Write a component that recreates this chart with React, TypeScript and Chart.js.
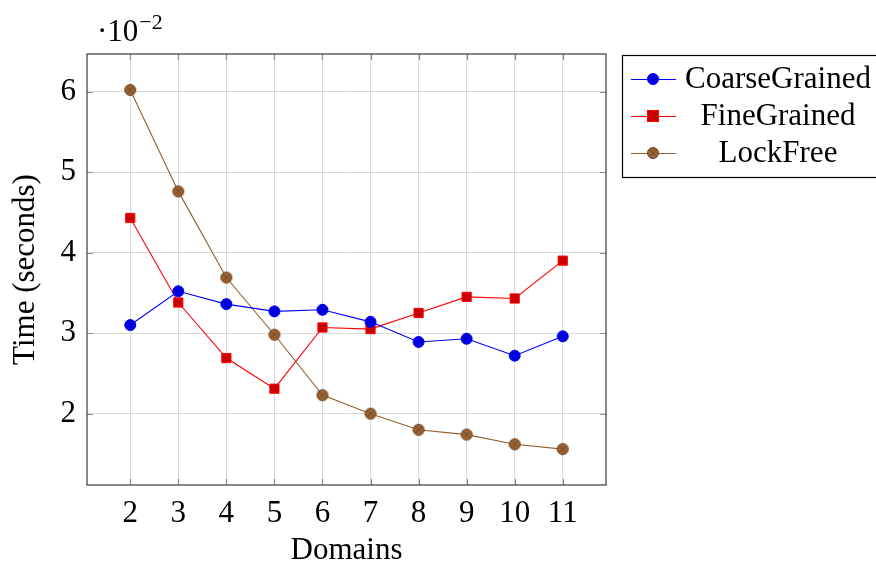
import React, { useEffect, useRef } from "react";
import { Chart, registerables } from "chart.js";

Chart.register(...registerables);

const domains = [2, 3, 4, 5, 6, 7, 8, 9, 10, 11];
const coarseGrained = [3.10, 3.52, 3.36, 3.27, 3.29, 3.14, 2.89, 2.93, 2.72, 2.96];
const fineGrained = [4.43, 3.38, 2.69, 2.31, 3.07, 3.05, 3.25, 3.45, 3.43, 3.90];
const lockFree = [6.02, 4.76, 3.69, 2.98, 2.23, 2.00, 1.80, 1.74, 1.62, 1.56];
const seriesNames = ["CoarseGrained", "FineGrained", "LockFree"];
const yTicks = [2, 3, 4, 5, 6];
const xLabel = "Domains";
const yLabel = "Time (seconds)";

const FONT = "'Liberation Serif', 'DejaVu Serif', serif";
const FS = 31;

function otimesMarker(): HTMLCanvasElement {
  const c = document.createElement("canvas");
  c.width = 14;
  c.height = 14;
  const ctx = c.getContext("2d")!;
  const r = 6;
  ctx.beginPath();
  ctx.arc(7, 7, r - 0.5, 0, Math.PI * 2);
  ctx.fillStyle = "#9a6233";
  ctx.fill();
  ctx.lineWidth = 1;
  ctx.strokeStyle = "#6e4420";
  ctx.stroke();
  const d = (r - 0.5) * Math.SQRT1_2;
  ctx.beginPath();
  ctx.moveTo(7 - d, 7 - d);
  ctx.lineTo(7 + d, 7 + d);
  ctx.moveTo(7 + d, 7 - d);
  ctx.lineTo(7 - d, 7 + d);
  ctx.strokeStyle = "#6e4420";
  ctx.lineWidth = 0.8;
  ctx.stroke();
  return c;
}

export default function App() {
  const ref = useRef<HTMLCanvasElement | null>(null);

  useEffect(() => {
    if (!ref.current) return;
    const lfMarker = otimesMarker();

    const styles = [
      { line: "#0000ff", fill: "#0000dd", border: "#0000ff", style: "circle" as any, radius: 5.5 },
      { line: "#ff0000", fill: "#cc0000", border: "#ff0000", style: "rect" as any, radius: 6.5 },
      { line: "#8f5e30", fill: "#9a6233", border: "#6e4420", style: lfMarker as any, radius: 6 },
    ];
    const values = [coarseGrained, fineGrained, lockFree];

    const frame = {
      id: "pgfFrame",
      afterDatasetsDraw(chart: any) {
        const { ctx, chartArea: a, scales } = chart;
        ctx.save();
        ctx.strokeStyle = "#8c8c8c";
        ctx.lineWidth = 1.2;
        const tl = 6;
        for (const v of domains) {
          const x = Math.round(scales.x.getPixelForValue(v)) + 0.5;
          ctx.beginPath();
          ctx.moveTo(x, a.bottom);
          ctx.lineTo(x, a.bottom - tl);
          ctx.moveTo(x, a.top);
          ctx.lineTo(x, a.top + tl);
          ctx.stroke();
        }
        for (const v of yTicks) {
          const y = Math.round(scales.y.getPixelForValue(v)) + 0.5;
          ctx.beginPath();
          ctx.moveTo(a.left, y);
          ctx.lineTo(a.left + tl, y);
          ctx.moveTo(a.right, y);
          ctx.lineTo(a.right - tl, y);
          ctx.stroke();
        }
        ctx.strokeStyle = "#3a3a3a";
        ctx.lineWidth = 1.2;
        ctx.strokeRect(a.left, a.top, a.right - a.left, a.bottom - a.top);
        ctx.restore();
      },
      afterDraw(chart: any) {
        const { ctx, chartArea: a } = chart;
        ctx.save();
        ctx.fillStyle = "#000";
        ctx.font = `${FS}px ${FONT}`;
        ctx.textBaseline = "alphabetic";
        ctx.textAlign = "left";
        const base = "\u00b710";
        ctx.fillText(base, 97, 41);
        const w = ctx.measureText(base).width;
        ctx.font = `22px ${FONT}`;
        ctx.fillText("\u22122", 97 + w + 1, 29);
        ctx.font = `${FS}px ${FONT}`;
        ctx.textAlign = "center";
        ctx.textBaseline = "middle";
        ctx.fillText(xLabel, (a.left + a.right) / 2, 551);
        ctx.save();
        ctx.translate(26, (a.top + a.bottom) / 2);
        ctx.rotate(-Math.PI / 2);
        ctx.fillText(yLabel, 0, 0);
        ctx.restore();
        const lx = 622, ly = 55, lw = 260, lh = 122;
        ctx.fillStyle = "#fff";
        ctx.fillRect(lx, ly, lw, lh);
        ctx.strokeStyle = "#000";
        ctx.lineWidth = 1.2;
        ctx.strokeRect(lx + 0.5, ly + 0.5, lw, lh);
        const rows = [79, 116, 153];
        seriesNames.forEach((name, i) => {
          const s = styles[i];
          const y = rows[i];
          ctx.strokeStyle = s.line;
          ctx.lineWidth = 1.1;
          ctx.beginPath();
          ctx.moveTo(631, y + 0.5);
          ctx.lineTo(676, y + 0.5);
          ctx.stroke();
          const mx = 653;
          ctx.lineWidth = 1;
          if (i === 0) {
            ctx.beginPath();
            ctx.arc(mx, y, 5.5, 0, Math.PI * 2);
            ctx.fillStyle = s.fill;
            ctx.fill();
            ctx.strokeStyle = s.border;
            ctx.stroke();
          } else if (i === 1) {
            ctx.fillStyle = s.fill;
            ctx.fillRect(mx - 5.5, y - 5.5, 11, 11);
            ctx.strokeStyle = s.border;
            ctx.strokeRect(mx - 5.5, y - 5.5, 11, 11);
          } else {
            ctx.drawImage(lfMarker, mx - 7, y - 7);
          }
          ctx.fillStyle = "#000";
          ctx.font = `${FS}px ${FONT}`;
          ctx.textAlign = "center";
          ctx.textBaseline = "middle";
          ctx.fillText(name, 778, y + 1);
        });
        ctx.restore();
      },
    };

    const chart = new Chart(ref.current, {
      type: "line",
      data: {
        datasets: seriesNames.map((name, i) => ({
          label: name,
          data: domains.map((d, j) => ({ x: d, y: values[i][j] })),
          borderColor: styles[i].line,
          borderWidth: 1.1,
          backgroundColor: styles[i].fill,
          pointBackgroundColor: styles[i].fill,
          pointBorderColor: styles[i].border,
          pointBorderWidth: 1,
          pointStyle: styles[i].style,
          pointRadius: styles[i].radius,
          tension: 0,
          fill: false,
        })),
      },
      options: {
        animation: false,
        responsive: false,
        maintainAspectRatio: false,
        layout: { padding: { left: 0, top: 54, right: 270, bottom: 0 } },
        plugins: { legend: { display: false }, tooltip: { enabled: false } },
        scales: {
          x: {
            type: "linear",
            min: 1.1,
            max: 11.9,
            afterBuildTicks: (s: any) => {
              s.ticks = domains.map((v) => ({ value: v }));
            },
            afterFit: (s: any) => {
              s.height = 79;
            },
            grid: { color: "#d9d9d9", lineWidth: 1, drawTicks: false },
            border: { display: false },
            ticks: {
              color: "#000",
              font: { family: FONT, size: FS },
              padding: 10,
              maxRotation: 0,
              autoSkip: false,
            },
          },
          y: {
            type: "linear",
            min: 1.114,
            max: 6.466,
            afterBuildTicks: (s: any) => {
              s.ticks = yTicks.map((v) => ({ value: v }));
            },
            afterFit: (s: any) => {
              s.width = 87;
            },
            grid: { color: "#d9d9d9", lineWidth: 1, drawTicks: false },
            border: { display: false },
            ticks: {
              color: "#000",
              font: { family: FONT, size: FS },
              padding: 11,
            },
          },
        },
      },
      plugins: [frame],
    } as any);
    return () => chart.destroy();
  }, []);

  return (
    <div style={{ position: "fixed", left: 0, top: 0, width: 876, height: 564, background: "#fff" }}>
      <canvas ref={ref} width={876} height={564} style={{ width: 876, height: 564 }} />
    </div>
  );
}
